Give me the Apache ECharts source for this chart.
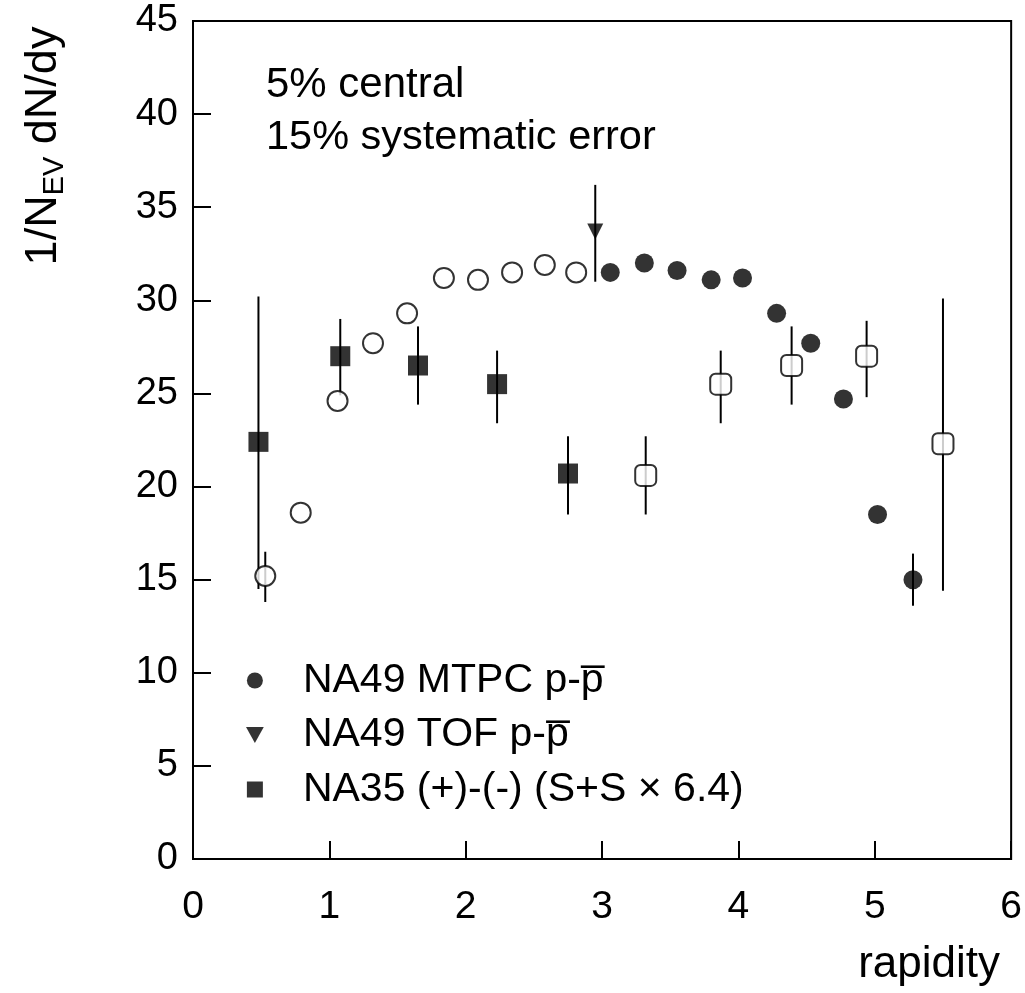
<!DOCTYPE html>
<html><head><meta charset="utf-8">
<script src="https://cdn.jsdelivr.net/npm/echarts@6/dist/echarts.min.js"></script>
<style>html,body{margin:0;padding:0;background:#fff}#c{width:1025px;height:993px}</style>
</head><body><div id="c"></div>
<script>
// NA49 MTPC p - pbar (measured, filled circles)
const mtpcX = [3.06, 3.31, 3.55, 3.80, 4.03, 4.28, 4.53, 4.77, 5.02, 5.28];
const mtpcY = [31.5, 32.0, 31.6, 31.1, 31.2, 29.3, 27.7, 24.7, 18.5, 15.0];
// NA49 MTPC reflected (open circles)
const mtpcReflX = [0.53, 0.79, 1.06, 1.32, 1.57, 1.84, 2.09, 2.34, 2.58, 2.81];
const mtpcReflY = [15.2, 18.6, 24.6, 27.7, 29.3, 31.2, 31.1, 31.5, 31.9, 31.5];
// NA49 TOF p - pbar (triangle)
const tofX = [2.95];
const tofY = [33.7];
// NA35 (+)-(-) (S+S x 6.4) (filled squares)
const na35X = [0.48, 1.08, 1.65, 2.23, 2.75];
const na35Y = [22.4, 27.0, 26.5, 25.5, 20.7];
// NA35 reflected (open squares)
const na35ReflX = [3.32, 3.87, 4.39, 4.94, 5.50];
const na35ReflY = [20.6, 25.5, 26.5, 27.0, 22.3];
// error bars: x, low, high
const errX  = [2.95, 0.53, 5.28, 0.48, 1.08, 1.65, 2.23, 2.75, 3.32, 3.87, 4.39, 4.94, 5.50];
const errLo = [31.0, 13.8, 13.6, 14.5, 24.9, 24.4, 23.4, 18.5, 18.5, 23.4, 24.4, 24.8, 14.4];
const errHi = [36.2, 16.5, 16.4, 30.2, 29.0, 28.6, 27.3, 22.7, 22.7, 27.3, 28.6, 28.9, 30.1];
const xTickLabels = ['0', '1', '2', '3', '4', '5', '6'];
const yTickLabels = ['0', '5', '10', '15', '20', '25', '30', '35', '40', '45'];
const legendNames = ['NA49 MTPC p-p\u0305', 'NA49 TOF p-p\u0305', 'NA35 (+)-(-) (S+S \u00d7 6.4)'];

const FONT = "'Liberation Sans', Arial, Helvetica, sans-serif";
const zip = (xs, ys) => xs.map((x, i) => [x, ys[i]]);

const chart = echarts.init(document.getElementById('c'), null, {renderer: 'canvas'});
chart.setOption({
  animation: false,
  backgroundColor: '#fff',
  grid: {left: 193, right: 13, top: 21, bottom: 134, show: true, borderColor: '#000', borderWidth: 2, backgroundColor: 'transparent'},
  xAxis: {
    type: 'value', min: 0, max: 6, interval: 1,
    axisLine: {show: true, lineStyle: {color: '#000', width: 2}},
    axisTick: {show: true, inside: true, length: 18, lineStyle: {color: '#000', width: 2}},
    splitLine: {show: false},
    axisLabel: {color: '#000', fontSize: 39, fontFamily: FONT, margin: 29,
      formatter: v => xTickLabels[Math.round(v)]}
  },
  yAxis: {
    type: 'value', min: 0, max: 45, interval: 5,
    axisLine: {show: true, lineStyle: {color: '#000', width: 2}},
    axisTick: {show: true, inside: true, length: 18, lineStyle: {color: '#000', width: 2}},
    splitLine: {show: false},
    axisLabel: {color: '#000', fontSize: 38, fontFamily: FONT, margin: 15,
      formatter: v => yTickLabels[Math.round(v / 5)]}
  },
  legend: {
    show: true, orient: 'vertical', left: 241, top: 655,
    itemWidth: 86, itemHeight: 16, itemGap: 13.5, symbolKeepAspect: true,
    selectedMode: false,
    textStyle: {color: '#000', fontSize: 41, fontFamily: FONT, lineHeight: 36},
    data: [
      {name: legendNames[0], icon: 'circle', itemStyle: {color: '#000', borderWidth: 0}},
      {name: legendNames[1], icon: 'path://M0,0 L10,0 L5,9 Z', itemStyle: {color: '#000', borderWidth: 0}},
      {name: legendNames[2], icon: 'path://M0,0 L10,0 L10,10 L0,10 Z', itemStyle: {color: '#000', borderWidth: 0}}
    ]
  },
  graphic: [
    {type: 'text', left: 266, top: 64, style: {text: '5% central', font: "42px " + FONT, fill: '#000'}},
    {type: 'text', left: 266, top: 117, style: {text: '15% systematic error', font: "41.5px " + FONT, fill: '#000'}},
    {type: 'text', x: 1000, y: 965, style: {text: 'rapidity', font: "44px " + FONT, fill: '#000', align: 'right', verticalAlign: 'middle'}},
    {type: 'text', x: 44, y: 146, rotation: Math.PI / 2,
      style: {text: '1/N{sub|EV} dN/dy', font: "45px " + FONT, fill: '#000', align: 'center', verticalAlign: 'middle',
        rich: {sub: {fontSize: 29, fontFamily: FONT, verticalAlign: 'bottom', padding: [22, 0, 0, 0]}}}}
  ],
  series: [
    {
      type: 'custom', name: 'errors', silent: true, z: 1,
      data: errX.map((x, i) => [x, errLo[i], errHi[i]]),
      renderItem: (params, api) => {
        const p1 = api.coord([api.value(0), api.value(1)]);
        const p2 = api.coord([api.value(0), api.value(2)]);
        return {type: 'line', shape: {x1: p1[0], y1: p1[1], x2: p2[0], y2: p2[1]}, style: {stroke: '#000', lineWidth: 2}};
      }
    },
    {type: 'scatter', name: legendNames[0], data: zip(mtpcX, mtpcY), symbol: 'circle', symbolSize: 19,
      itemStyle: {color: '#000'}, z: 3},
    {type: 'scatter', name: 'mtpc-refl', data: zip(mtpcReflX, mtpcReflY), symbol: 'circle', symbolSize: 20,
      itemStyle: {color: '#fff', borderColor: '#000', borderWidth: 2}, z: 3},
    {type: 'scatter', name: legendNames[1], data: zip(tofX, tofY), symbol: 'triangle', symbolRotate: 180, symbolSize: [16, 16],
      itemStyle: {color: '#000'}, z: 3},
    {type: 'scatter', name: legendNames[2], data: zip(na35X, na35Y), symbol: 'rect', symbolSize: 20,
      itemStyle: {color: '#000'}, z: 3},
    {type: 'scatter', name: 'na35-refl', data: zip(na35ReflX, na35ReflY), symbol: 'roundRect', symbolSize: 21,
      itemStyle: {color: '#fff', borderColor: '#000', borderWidth: 2}, z: 3}
  ]
});
</script></body></html>
